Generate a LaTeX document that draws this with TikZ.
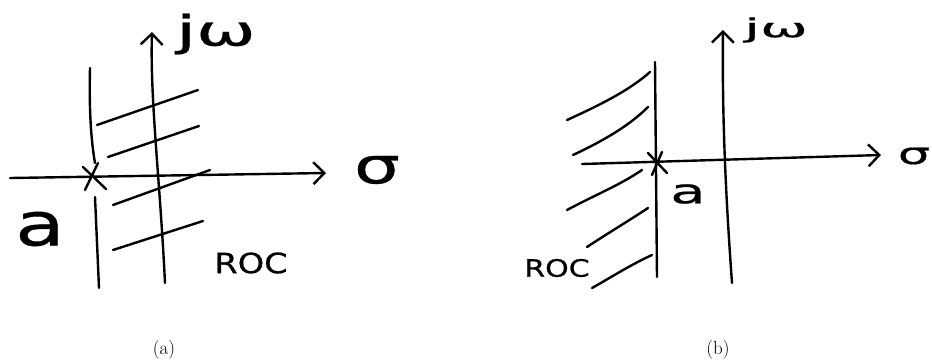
\documentclass[tikz,border=0pt]{standalone}
\usepackage{fontspec}
\newfontfamily\handfont[FakeBold=0.6]{DejaVu Sans}
\newcommand\handtxt[3]{\scalebox{#1}[1]{\handfont\fontsize{#2}{#2}\selectfont #3}}
\usetikzlibrary{arrows.meta}
\begin{document}
\begin{tikzpicture}[x=1pt,y=-1pt,
  stroke/.style={line width=2.4pt,line cap=round,line join=round},
  axis/.style={stroke,-{Straight Barb[length=11pt,width=22pt,line width=2.4pt]}},
  hatch/.style={stroke},
  lbl/.style={inner sep=0pt,anchor=center},
  captxt/.style={inner sep=0pt,font=\fontsize{19}{21}\selectfont}]
\useasboundingbox (0,0) rectangle (932,362);
% ---------- panel (a) ----------
\coordinate (aJb) at (165,283);
\coordinate (aJt) at (152,32);
\coordinate (aSl) at (10,178);
\coordinate (aSr) at (326,173);
\draw[axis] (aJb) .. controls (160,180) and (150,100) .. (aJt);
\draw[axis] (aSl) -- (aSr);
\coordinate (aV1) at (90,68);
\coordinate (aV2) at (95,163);
\coordinate (aV3) at (95,197);
\coordinate (aV4) at (99,288);
\draw[stroke] (aV1) .. controls (89,110) and (91,140) .. (aV2);
\draw[stroke] (aV3) -- (aV4);
\coordinate (aX) at (93,177);
\draw[stroke] (83,167) -- (106,189);
\draw[stroke] (85,190) -- (98,163);
\draw[hatch] (97,125) -- (198,90);
\draw[hatch] (108,157) -- (199,126);
\draw[hatch] (113,205) -- (210,170);
\draw[hatch] (113,250) -- (203,221);
\node[lbl] (aJw) at (216,34) {\handtxt{1.7}{42}{jω}};
\node[lbl] (aSig) at (377,170) {\handtxt{1.45}{50}{σ}};
\node[lbl] (aA) at (40,229) {\handtxt{1.35}{60}{a}};
\node[lbl] (aRoc) at (251,263) {\handtxt{1.2}{28}{ROC}};
\node[captxt] (capA) at (164,350) {(a)};
% ---------- panel (b) ----------
\coordinate (bJb) at (732,283);
\coordinate (bJt) at (723,30);
\coordinate (bSl) at (582,164);
\coordinate (bSr) at (881,155);
\draw[axis] (bJb) .. controls (726,200) and (722,120) .. (bJt);
\draw[axis] (bSl) -- (bSr);
\coordinate (bV1) at (655,62);
\coordinate (bV2) at (657,277);
\draw[stroke] (bV1) -- (bV2);
\coordinate (bX) at (657,163);
\draw[stroke] (648,153) -- (667,173);
\draw[stroke] (652,175) -- (662,152);
\draw[hatch] (567,120) .. controls (600,105) and (630,90) .. (650,72);
\draw[hatch] (573,155) .. controls (605,140) and (630,125) .. (648,107);
\draw[hatch] (567,210) .. controls (595,195) and (620,185) .. (642,170);
\draw[hatch] (587,247) .. controls (605,235) and (630,220) .. (648,208);
\draw[hatch] (592,288) .. controls (610,278) and (630,265) .. (652,255);
\node[lbl] (bJw) at (776,30) {\handtxt{2.2}{26}{jω}};
\node[lbl] (bSig) at (914,156) {\handtxt{1.7}{30}{σ}};
\node[lbl] (bA) at (688,194) {\handtxt{1.7}{34}{a}};
\node[lbl] (bRoc) at (557,268) {\handtxt{1.25}{24}{ROC}};
\node[captxt] (capB) at (718,350) {(b)};
\end{tikzpicture}
\end{document}
